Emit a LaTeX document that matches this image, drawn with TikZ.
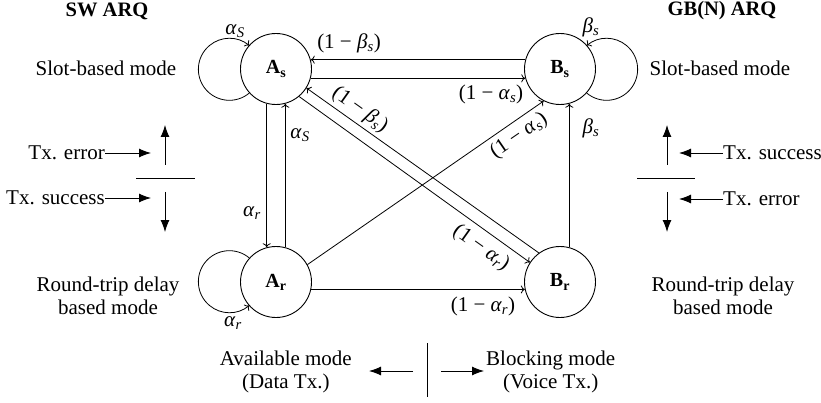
\documentclass[tikz,border=0pt]{standalone}
\usepackage{fontspec}
\setmainfont{Liberation Serif}
\usetikzlibrary{arrows.meta}
\newcommand{\glab}[2]{\textit{#1}\textsubscript{\textit{#2}}}
\begin{document}
\begin{tikzpicture}[x=1pt,y=1pt,
  st/.style={circle,draw,line width=0.9pt,minimum size=71pt,inner sep=0pt,font=\fontsize{20}{24}\selectfont\bfseries},
  txt/.style={font=\fontsize{21}{22.5}\selectfont, inner sep=0pt, align=center},
  lbl/.style={font=\fontsize{21}{24}\selectfont, inner sep=0pt},
  edge/.style={line width=0.8pt,-{To[length=4pt,width=8pt]}},
  big/.style={line width=0.9pt,-{Latex[length=12pt,width=9pt]}},
  plain/.style={line width=0.9pt}
  ]
\useasboundingbox (0,0) rectangle (821,402);
% states
\node[st] (As) at (276,333) {A\textsubscript{s}};
\node[st] (Bs) at (560,333) {B\textsubscript{s}};
\node[st] (Ar) at (276,120) {A\textsubscript{r}};
\node[st] (Br) at (560,120) {B\textsubscript{r}};
% self loops
\draw[edge] (As.222) arc[start angle=-50, end angle=-310, radius=31];
\draw[edge] (Bs.318) arc[start angle=-130, end angle=130, radius=31];
\draw[edge] (Ar.138) arc[start angle=50, end angle=310, radius=31];
% edges
\draw[edge] (Bs.165) -- (As.15);
\draw[edge] (As.-15) -- (Bs.195);
\draw[edge] (As.-105) -- (Ar.105);
\draw[edge] (Ar.75) -- (As.-75);
\draw[edge] (Br.75) -- (Bs.-75);
\draw[edge] (Ar.-12) -- (Br.192);
\draw[edge] (Ar.29) -- (Bs.243);
\draw[edge] (Br.126) -- (As.-32);
\draw[edge] (As.-50) -- (Br.147);
% edge labels
\node[lbl] (l1) at (235,371) {\glab{α}{S}};
\node[lbl] (l2) at (591,375) {\glab{β}{s}};
\node[lbl] (l3) at (233,79) {\glab{α}{r}};
\node[lbl] (l4) at (349,359) {(1 − \glab{β}{s})};
\node[lbl] (l5) at (491,308) {(1 − \glab{α}{s})};
\node[lbl] (l6) at (300,267) {\glab{α}{S}};
\node[lbl] (l7) at (252,189) {\glab{α}{r}};
\node[lbl] (l8) at (591,274) {\glab{β}{s}};
\node[lbl] (l9) at (483,96) {(1 − \glab{α}{r})};
\node[lbl,rotate=34.5] (l10) at (519,266) {(1 − \glab{α}{s})};
\node[lbl,rotate=-35.4] (l11) at (360,292) {(1 − \glab{β}{s})};
\node[lbl,rotate=-35.4] (l12) at (481,154) {(1 − \glab{α}{r})};
% titles and side texts
\node[txt,font=\fontsize{20.5}{22}\selectfont\bfseries] (sw) at (107,391) {SW ARQ};
\node[txt,font=\fontsize{20.5}{22}\selectfont\bfseries] (gb) at (722,391) {GB(N) ARQ};
\node[txt] (sl) at (106,334) {Slot-based mode};
\node[txt] (sr) at (720,334) {Slot-based mode};
\node[txt] (rl) at (108,106) {Round-trip delay\\based mode};
\node[txt] (rr) at (723,106) {Round-trip delay\\based mode};
% left legend
\node[txt,anchor=east] (te) at (105,249) {Tx. error};
\node[txt,anchor=east] (ts) at (105,204) {Tx. success};
\coordinate (te2) at (151,249);
\coordinate (ts2) at (151,204);
\draw[big] (te.east) -- (te2);
\draw[big] (ts.east) -- (ts2);
\coordinate (lu1) at (165,237); \coordinate (lu2) at (165,277);
\coordinate (ld1) at (165,210); \coordinate (ld2) at (165,170);
\coordinate (lh1) at (136,224); \coordinate (lh2) at (195,224);
\draw[big] (lu1) -- (lu2);
\draw[big] (ld1) -- (ld2);
\draw[plain] (lh1) -- (lh2);
% right legend
\node[txt,anchor=west] (rs) at (723,249) {Tx. success};
\node[txt,anchor=west] (re) at (723,203) {Tx. error};
\coordinate (rs2) at (679,249);
\coordinate (re2) at (679,203);
\draw[big] (rs.west) -- (rs2);
\draw[big] (re.west) -- (re2);
\coordinate (ru1) at (667,237); \coordinate (ru2) at (667,277);
\coordinate (rd1) at (667,210); \coordinate (rd2) at (667,170);
\coordinate (rh1) at (637,224); \coordinate (rh2) at (695,224);
\draw[big] (ru1) -- (ru2);
\draw[big] (rd1) -- (rd2);
\draw[plain] (rh1) -- (rh2);
% bottom legend
\node[txt,anchor=east] (av) at (352,30) {Available mode\\(Data Tx.)};
\node[txt,anchor=west] (bl) at (486,30) {Blocking mode\\(Voice Tx.)};
\coordinate (ba1) at (413,31); \coordinate (ba2) at (369,31);
\coordinate (bb1) at (441,31); \coordinate (bb2) at (484,31);
\coordinate (bv1) at (427,59); \coordinate (bv2) at (427,5);
\draw[big] (ba1) -- (ba2);
\draw[big] (bb1) -- (bb2);
\draw[plain] (bv1) -- (bv2);
\end{tikzpicture}
\end{document}
